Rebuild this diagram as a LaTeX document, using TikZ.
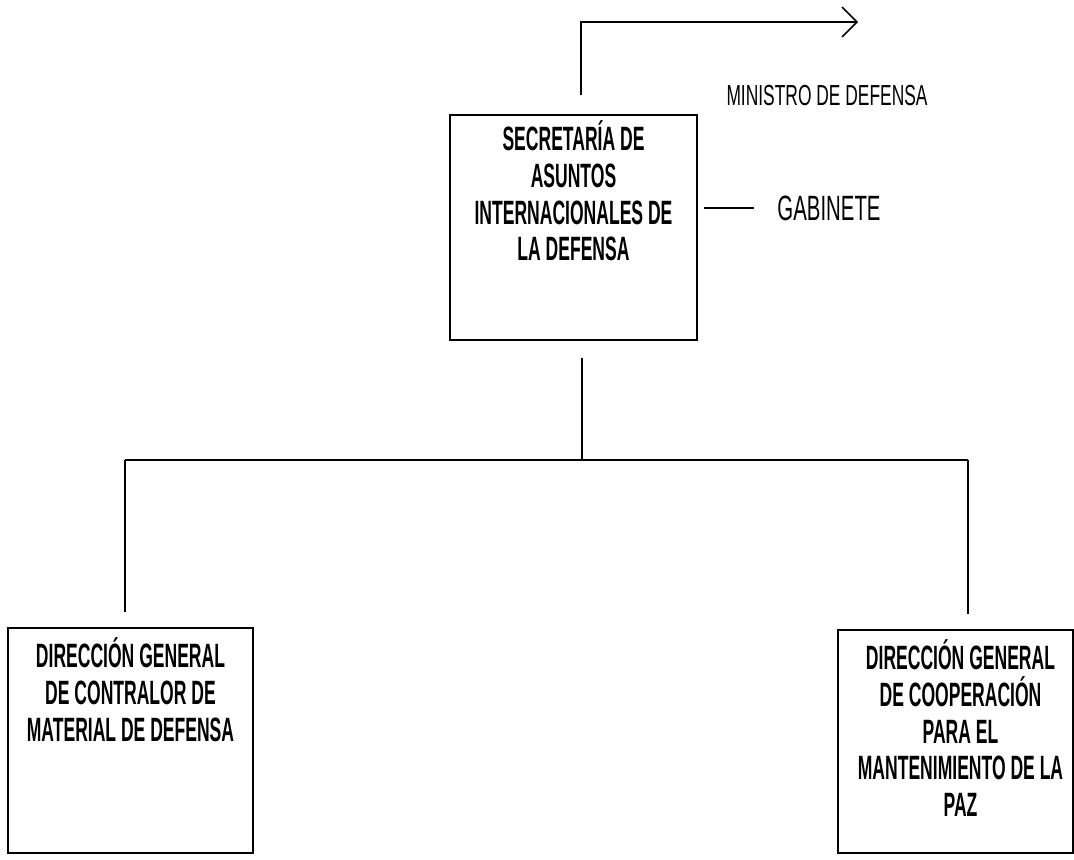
\documentclass[tikz,border=0pt]{standalone}
\usepackage[]{fontspec}
\usepackage[]{tikz}
\setmainfont{Liberation Sans}
\newfontfamily\boxfont[FakeStretch=0.52]{Liberation Sans}
\newfontfamily\minfont[FakeStretch=0.6]{Liberation Sans}
\newfontfamily\gabfont[FakeStretch=0.58]{Liberation Sans}
\usetikzlibrary{arrows.meta}
\usetikzlibrary{positioning}
\tikzset{orgbox/.style = {draw, line width=1.2pt, inner sep=0}}
\tikzset{boxtitle/.style = {font=\boxfont\bfseries\fontsize{19.2}{21}\selectfont, align=center, inner sep=0}}
\tikzset{link/.style = {line width=0.9pt}}
\tikzset{orgarrow/.style = {link, -{Straight Barb[length=8.5pt,width=17pt,line width=0.9pt]}}}

\begin{document}
\begin{tikzpicture}[x=0.02cm, y=-0.02cm]
        \useasboundingbox (0,0) rectangle (1074,859);
        \node[orgbox, minimum width=4.94cm, minimum height=4.5cm] (sec) at (573.5,227.5) {};
        \node[boxtitle, below=0.12cm of sec.north] (sectitle) {SECRETARÍA DE\\ASUNTOS\\INTERNACIONALES DE\\LA DEFENSA};
        \node[orgbox, minimum width=4.9cm, minimum height=4.5cm] (ctl) at (130.5,740.5) {};
        \node[boxtitle, below=0.2cm of ctl.north] (ctltitle) {DIRECCIÓN GENERAL\\DE CONTRALOR DE\\MATERIAL DE DEFENSA};
        \node[orgbox, minimum width=4.7cm, minimum height=4.46cm] (paz) at (955.5,741.5) {};
        \node[boxtitle, below=0.2cm of paz.north, xshift=0.1cm] (paztitle) {DIRECCIÓN GENERAL\\DE COOPERACIÓN\\PARA EL\\MANTENIMIENTO DE LA\\PAZ};
        \node[font=\minfont\fontsize{16.5}{19}\selectfont, inner sep=0] (min) at (827,96) {MINISTRO DE DEFENSA};
        \node[font=\gabfont\fontsize{20}{22}\selectfont, inner sep=0] (gab) at (829,208) {GABINETE};
        \coordinate (minfoot) at (581,95);
        \coordinate (mintip) at (858,22);
        \coordinate (hub) at (582,460);
        \coordinate (dropL) at (125,460);
        \coordinate (dropR) at (968,460);
        \draw[orgarrow] (minfoot) |- (mintip);
        \draw[link, shorten <=0.12cm, shorten >=0.46cm] (sec.east |- gab.west) -- (gab.west);
        \draw[link, shorten <=0.34cm] (sec.south -| hub) -- (hub);
        \draw[link] (dropL) -- (dropR);
        \draw[link, shorten >=0.3cm] (dropL) -- (ctl.north -| dropL);
        \draw[link, shorten >=0.3cm] (dropR) -- (paz.north -| dropR);
\end{tikzpicture}
\end{document}
